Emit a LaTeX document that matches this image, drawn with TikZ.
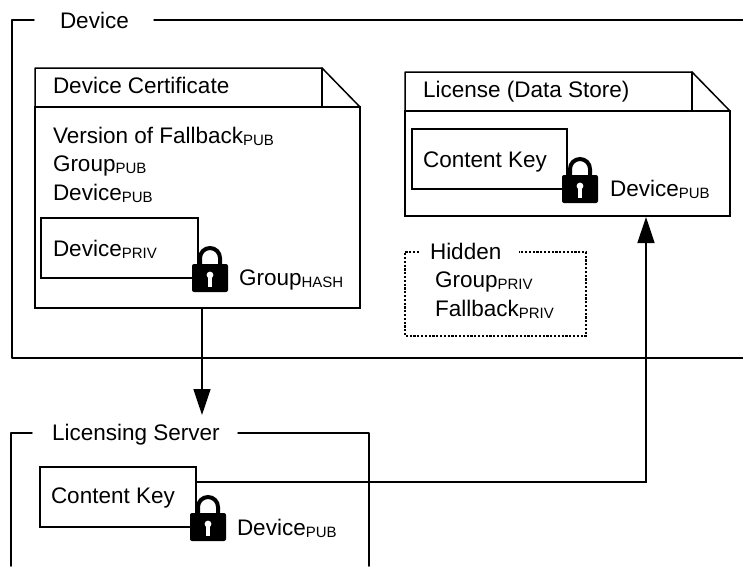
\documentclass[tikz,border=0pt]{standalone}
\usepackage{fontspec}
\setmainfont{Liberation Sans}
\usetikzlibrary{arrows.meta}
\newcommand{\lowtxt}[1]{\raisebox{-2pt}{\fontsize{15}{15}\selectfont #1}}
\tikzset{
  frameline/.style={line width=1.5pt,line cap=round,line join=round},
  docbox/.style={draw,line width=1.5pt,inner sep=0pt,outer sep=0pt,anchor=north west},
  keybox/.style={draw,line width=1.1pt,inner sep=0pt,outer sep=0pt,anchor=north west},
  hiddenbox/.style={line width=1.3pt,dash pattern=on 2.2pt off 1.6pt},
  lbl/.style={anchor=base west,inner sep=0pt,outer sep=0pt,font=\fontsize{22.5}{22.5}\selectfont},
  conn/.style={line width=1.5pt},
  arr/.style={conn,-{Triangle[length=26pt,width=17pt]}},
  pics/padlock/.style={code={
    \draw[line width=4pt,black] (-10,6) -- (-10,-6) arc[start angle=180,end angle=0,x radius=10,y radius=-10] -- (10,6);
    \fill[black,rounded corners=2pt] (-18,0) rectangle (18,28);
    \fill[white] (0,11) circle[radius=3.4];
    \fill[white] (-2,11) rectangle (2,23);
  }}
}
\begin{document}
\begin{tikzpicture}[x=1pt,y=-1pt]
\useasboundingbox (0,0) rectangle (743,566);
% Device frame
\node[lbl] (devlabel) at (60,28) {Device};
\coordinate (devA) at (34,20);
\coordinate (devB) at (12,20);
\coordinate (devC) at (12,358);
\coordinate (devD) at (743,358);
\coordinate (devE) at (154,20);
\coordinate (devF) at (743,20);
\draw[frameline] (devA) -- (devB) -- (devC) -- (devD);
\draw[frameline] (devE) -- (devF);
% Device certificate
\node[docbox,minimum width=325pt,minimum height=201pt] (cert) at (35,107) {};
\coordinate (certTL) at (35,68);
\coordinate (certFold) at (322,68);
\coordinate (certFoldB) at (322,107);
\draw[frameline] (cert.north west) -- (certTL) -- (certFold) -- (cert.north east);
\draw[frameline] (certFold) -- (certFoldB);
\node[lbl] (certtitle) at (53,93) {Device Certificate};
\node[lbl] (ver) at (53,143) {Version of Fallback\lowtxt{PUB}};
\node[lbl] (grp) at (53,171) {Group\lowtxt{PUB}};
\node[lbl] (devp) at (53,200) {Device\lowtxt{PUB}};
\node[keybox,minimum width=157pt,minimum height=60pt] (privbox) at (41,218) {};
\node[lbl] (priv) at (53,256) {Device\lowtxt{PRIV}};
\pic at (210,264) {padlock};
\node[lbl] (ghash) at (239,285) {Group\lowtxt{HASH}};
% License
\node[docbox,minimum width=325pt,minimum height=105pt] (lic) at (405,111) {};
\coordinate (licTL) at (405,72);
\coordinate (licFold) at (692,72);
\coordinate (licFoldB) at (692,111);
\draw[frameline] (lic.north west) -- (licTL) -- (licFold) -- (lic.north east);
\draw[frameline] (licFold) -- (licFoldB);
\node[lbl] (lictitle) at (423,97) {License (Data Store)};
\node[keybox,minimum width=155pt,minimum height=60pt] (lickey) at (412,129) {};
\node[lbl] (lickeyt) at (423,167) {Content Key};
\pic at (580,175) {padlock};
\node[lbl] (licpub) at (610,196) {Device\lowtxt{PUB}};
% Hidden
\node[lbl] (hidden) at (430,259) {Hidden};
\coordinate (hidA) at (419,252);
\coordinate (hidB) at (405,252);
\coordinate (hidC) at (405,336);
\coordinate (hidD) at (586,336);
\coordinate (hidE) at (586,252);
\coordinate (hidF) at (519,252);
\draw[hiddenbox] (hidA) -- (hidB) -- (hidC) -- (hidD) -- (hidE) -- (hidF);
\node[lbl] (hgrp) at (435,287) {Group\lowtxt{PRIV}};
\node[lbl] (hfall) at (435,316) {Fallback\lowtxt{PRIV}};
% Licensing server
\node[lbl] (srvlabel) at (52,440) {Licensing Server};
\coordinate (srvA) at (32,433);
\coordinate (srvB) at (11,433);
\coordinate (srvC) at (11,566);
\coordinate (srvD) at (238,433);
\coordinate (srvE) at (369,433);
\coordinate (srvF) at (369,566);
\draw[frameline] (srvA) -- (srvB) -- (srvC);
\draw[frameline] (srvD) -- (srvE) -- (srvF);
\node[keybox,minimum width=156pt,minimum height=60pt] (srvkey) at (40,467) {};
\node[lbl] (srvkeyt) at (51,503) {Content Key};
\pic at (208,513) {padlock};
\node[lbl] (srvpub) at (237,535) {Device\lowtxt{PUB}};
% Connectors
\coordinate (certout) at (202,308);
\coordinate (srvin) at (202,415);
\coordinate (keyout) at (196,482);
\coordinate (licin) at (646,217);
\draw[arr] (certout) -- (srvin);
\draw[arr] (keyout) -| (licin);
\end{tikzpicture}
\end{document}
